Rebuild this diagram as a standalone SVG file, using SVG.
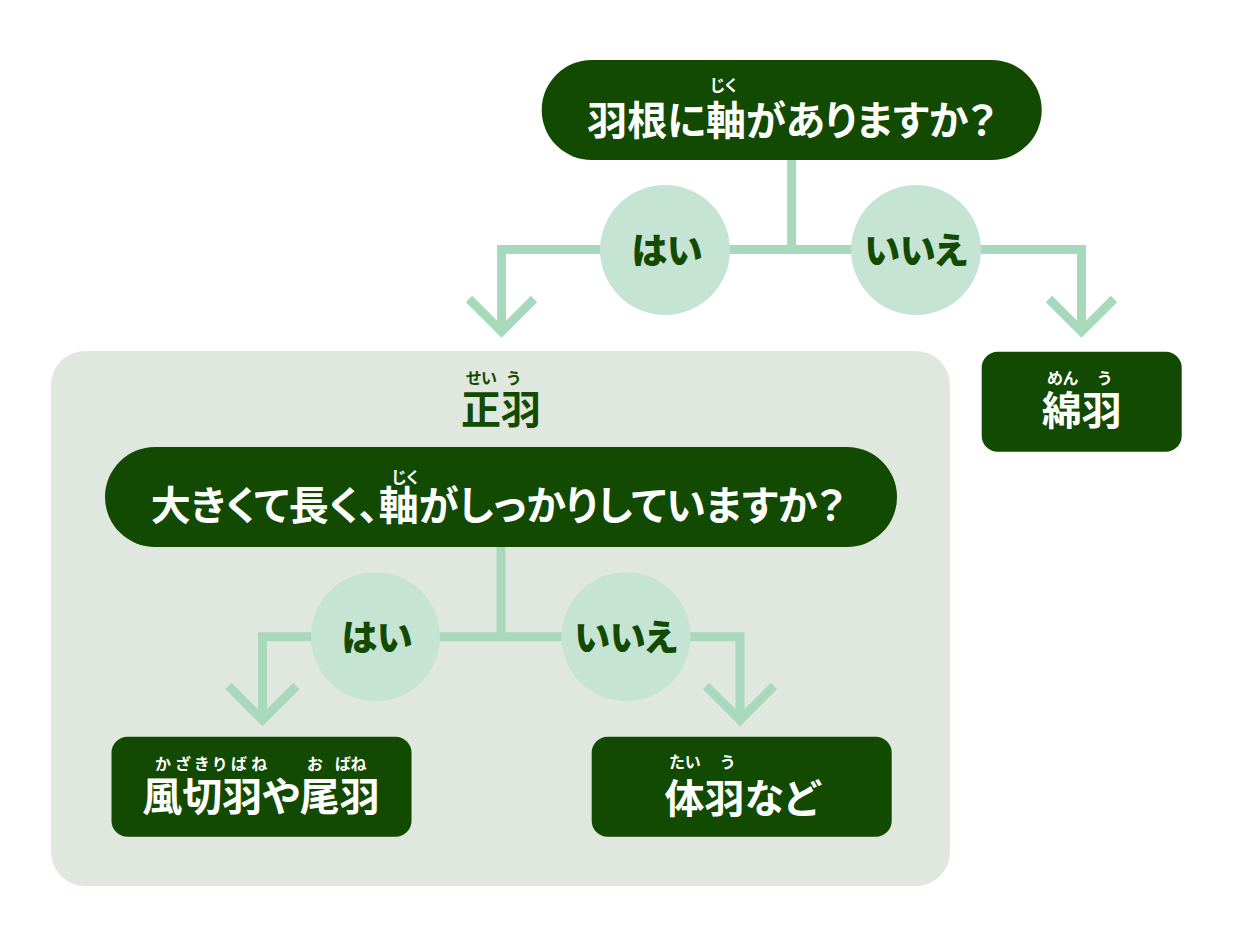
<svg xmlns="http://www.w3.org/2000/svg" width="1250" height="938" viewBox="0 0 1250 938">
<style>
.bg{fill:#dfe7de}
.dk{fill:#114a00}
.cir{fill:#c6e4d3}
.ln{fill:none;stroke:#a9d9bd;stroke-width:9;stroke-linejoin:miter;stroke-linecap:butt}
text{font-family:"Noto Sans CJK JP","Noto Sans",sans-serif;font-feature-settings:"palt";text-anchor:middle}
.q{font-size:40px;font-weight:700;fill:#ffffff}
.r{font-size:16px;font-weight:700;fill:#ffffff}
.rd{font-size:16px;font-weight:700;fill:#114a00}
.t{font-size:40px;font-weight:700;fill:#114a00}
.yn{font-size:36px;font-weight:900;fill:#114a00}
</style>
<rect width="1250" height="938" fill="#ffffff"/>
<g id="group-seiu">
<rect class="bg" x="51" y="351" width="899" height="535" rx="34"/>
<text class="rd" x="481.5" y="384">せい</text>
<text class="rd" x="513.5" y="384">う</text>
<text class="t" x="501" y="424">正羽</text>
</g>
<g id="connectors">
<path class="ln" d="M791.7,160 V249.5"/>
<path class="ln" d="M501.5,331 V249.5 H1081.5 V331"/>
<path class="ln" d="M469,299 L501.5,331.5 L534,299"/>
<path class="ln" d="M1049,299 L1081.5,331.5 L1114,299"/>
<path class="ln" d="M501,547 V636.7"/>
<path class="ln" d="M262.5,720 V636.7 H740 V720"/>
<path class="ln" d="M228.5,686 L262.5,720 L296.5,686"/>
<path class="ln" d="M706,686 L740,720 L774,686"/>
</g>
<g id="q1">
<rect class="dk" x="541.7" y="60" width="500" height="100" rx="50"/>
<text class="r" x="723.5" y="91">じく</text>
<text class="q" x="791.7" y="135">羽根に軸がありますか？</text>
</g>
<g id="yes1">
<circle class="cir" cx="665" cy="250" r="65"/>
<text class="yn" x="667" y="264">はい</text>
</g>
<g id="no1">
<circle class="cir" cx="916" cy="250" r="65"/>
<text class="yn" x="916" y="264">いいえ</text>
</g>
<g id="menu">
<rect class="dk" x="981.7" y="351.7" width="200" height="100" rx="16"/>
<text class="r" x="1062.5" y="384">めん</text>
<text class="r" x="1104.5" y="384">う</text>
<text class="q" x="1081.7" y="425">綿羽</text>
</g>
<g id="q2">
<rect class="dk" x="105" y="447" width="792" height="100" rx="50"/>
<text class="r" x="405" y="483">じく</text>
<text class="q" x="498" y="520">大きくて長く、軸がしっかりしていますか？</text>
</g>
<g id="yes2">
<circle class="cir" cx="375.5" cy="636.7" r="64.5"/>
<text class="yn" x="377" y="651">はい</text>
</g>
<g id="no2">
<circle class="cir" cx="626" cy="636.7" r="64.5"/>
<text class="yn" x="626" y="651">いいえ</text>
</g>
<g id="kazakiribane">
<rect class="dk" x="111.5" y="736.7" width="300" height="100" rx="16"/>
<text class="r" x="211" y="770" textLength="112" lengthAdjust="spacing">かざきりばね</text>
<text class="r" x="315" y="770">お</text>
<text class="r" x="350.5" y="770">ばね</text>
<text class="q" x="261" y="811">風切羽や尾羽</text>
</g>
<g id="taiu">
<rect class="dk" x="591.7" y="736.7" width="300" height="100" rx="16"/>
<text class="r" x="685" y="768">たい</text>
<text class="r" x="727.5" y="768">う</text>
<text class="q" x="742" y="813">体羽など</text>
</g>
</svg>
